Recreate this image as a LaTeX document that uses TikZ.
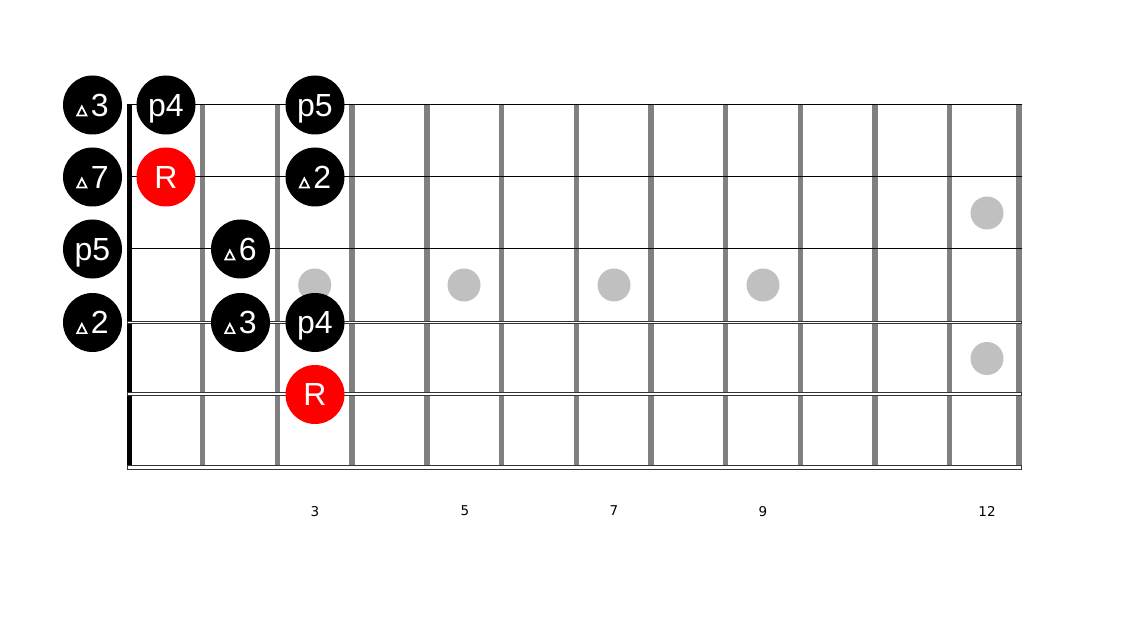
\documentclass[tikz,border=0pt]{standalone}
\usepackage{fontspec}
\setmainfont{Liberation Sans}
\newfontfamily\symfont{DejaVu Sans}
\usepackage{tikz}

\definecolor{fretgray}{HTML}{808080}
\definecolor{inlaygray}{HTML}{C0C0C0}
\definecolor{woundgray}{HTML}{333333}
% small open triangle before an interval number
\newcommand{\tri}{\tikz[x=1pt, y=1pt, baseline=0pt]
  \draw[white, line width=1.7pt, line join=miter] (0.8,0.8) -- (10.2,0.8) -- (5.5,10) -- cycle;\kern3.5pt}

\begin{document}
\begin{tikzpicture}[x=1pt, y=-1pt,
  note/.style={circle, fill=black, text=white, minimum size=59pt, inner sep=0pt,
    font=\fontsize{32}{32}\selectfont, text height=22.8pt, text depth=0pt},
  root/.style={note, fill=red},
  inlay/.style={circle, fill=inlaygray, minimum size=33pt, inner sep=0pt},
  wound/.style={draw=woundgray, fill=white, line width=0.9pt},
  fretnum/.style={font=\symfont\fontsize{13.5}{13.5}\selectfont, text depth=0pt}]
\useasboundingbox (0,0) rectangle (1122,631);
% frets
\foreach \k in {1,...,11}
  \fill[fretgray] ({128+74.7*\k-2.7},105) rectangle ({128+74.7*\k+2.7},467);
\fill[fretgray] (1016.3,105) rectangle (1021.7,467);
% inlays
\node[inlay] (dot3) at (314.7,285) {};
\node[inlay] (dot5) at (464,285) {};
\node[inlay] (dot7) at (614,285) {};
\node[inlay] (dot9) at (763,285) {};
\node[inlay] (dot12a) at (987,213) {};
\node[inlay] (dot12b) at (987,358.5) {};
% nut
\fill[black] (126.7,105) rectangle (131.7,467);
% strings
\draw[line width=1pt] (126.7,105) -- (1021.7,105);
\draw[line width=1pt] (126.7,177) -- (1021.7,177);
\draw[line width=1pt] (126.7,249) -- (1021.7,249);
\draw[wound] (127.1,321.1) rectangle (1021.3,323.1);
\draw[wound] (127.1,392.9) rectangle (1021.3,395.1);
\draw[wound] (127.1,465.9) rectangle (1021.3,469.9);
% notes
\node[note] (s1f0) at (92.5,105) {\tri3};
\node[note] (s1f1) at (166,105) {p4};
\node[note] (s1f3) at (315,105) {p5};
\node[note] (s2f0) at (92.5,177) {\tri7};
\node[root] (s2f1) at (166,177) {R};
\node[note] (s2f3) at (315,177) {\tri2};
\node[note] (s3f0) at (92.5,249) {p5};
\node[note] (s3f2) at (240.5,249) {\tri6};
\node[note] (s4f0) at (92.5,322.5) {\tri2};
\node[note] (s4f2) at (240.5,322.5) {\tri3};
\node[note] (s4f3) at (315,322.5) {p4};
\node[root] (s5f3) at (315,394.5) {R};
% fret numbers
\node[fretnum] (num3) at (315,511) {3};
\node[fretnum] (num5) at (465,511) {5};
\node[fretnum] (num7) at (614,511) {7};
\node[fretnum] (num9) at (763,511) {9};
\node[fretnum] (num12) at (987,511) {12};
\end{tikzpicture}
\end{document}
